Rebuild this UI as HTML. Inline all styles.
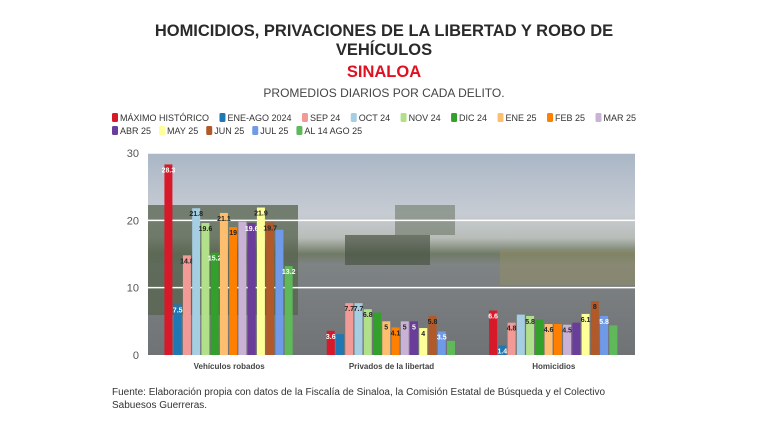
<!DOCTYPE html>
<html><head><meta charset="utf-8"><style>
body{margin:0;width:768px;height:432px;background:#fff;font-family:"Liberation Sans",sans-serif;overflow:hidden;position:relative}
.t{position:absolute;left:0;width:768px;text-align:center}
</style></head><body>
<div class="t" style="top:22px;font-size:16.5px;font-weight:bold;color:#2a2a2a;line-height:19px">HOMICIDIOS, PRIVACIONES DE LA LIBERTAD Y ROBO DE<br>VEHÍCULOS</div>
<div class="t" style="top:63px;font-size:16.5px;font-weight:bold;color:#e01020">SINALOA</div>
<div class="t" style="top:86px;font-size:12px;color:#444">PROMEDIOS DIARIOS POR CADA DELITO.</div>
<svg id="c" width="768" height="432" style="position:absolute;left:0;top:0"></svg>
<div style="position:absolute;left:112px;top:386px;font-size:10px;color:#333;line-height:13px">Fuente: Elaboración propia con datos de la Fiscalía de Sinaloa, la Comisión Estatal de Búsqueda y el Colectivo<br>Sabuesos Guerreras.</div>
<script>
const categories=["Vehículos robados","Privados de la libertad","Homicidios"];
const seriesNames=["MÁXIMO HISTÓRICO","ENE-AGO 2024","SEP 24","OCT 24","NOV 24","DIC 24","ENE 25","FEB 25","MAR 25","ABR 25","MAY 25","JUN 25","JUL 25","AL 14 AGO 25"];
const seriesColors=["#d7192a","#1f78b4","#f29a96","#a6cee3","#b2df8a","#33a02c","#fdbf6f","#ff7f00","#cab2d6","#6a3d9a","#ffff99","#b15928","#6f9ae8","#5fb85a"];
const vehiculos=[28.3,7.5,14.8,21.8,19.6,15.2,21.1,19,19.8,19.6,21.9,19.7,18.6,13.2];
const privados=[3.6,3.1,7.7,7.7,6.8,6.3,5,4.1,5,5,4,5.8,3.5,2.1];
const homicidios=[6.6,1.4,4.8,6,5.8,5.3,4.6,4.6,4.5,4.8,6.1,8,5.8,4.4];
const labels=[
 ["28.3","7.5","14.8","21.8","19.6","15.2","21.1","19","","19.6","21.9","19.7","","13.2"],
 ["3.6","","7.7","7.7","6.8","","5","4.1","5","5","4","5.8","3.5",""],
 ["6.6","1.4","4.8","","5.8","","4.6","","4.5","","6.1","8","5.8",""]];
const yTicks=[0,10,20,30];
const values=[vehiculos,privados,homicidios];
const NS="http://www.w3.org/2000/svg",svg=document.getElementById('c');
const X0=148,X1=635,Y0=355,Y1=153;
const y=v=>Y0-(v/30)*(Y0-Y1);
const band=(X1-X0)/categories.length;
const step=9.25,bw=8;
const x=(ci,si)=>X0+band*ci+band/2-(seriesNames.length*step)/2+si*step;
function mk(t,a,p){const e=document.createElementNS(NS,t);for(const k in a)e.setAttribute(k,a[k]);(p||svg).appendChild(e);return e;}
const defs=mk('defs',{});
defs.innerHTML='<linearGradient id="sky" x1="0" y1="0" x2="0" y2="1"><stop offset="0" stop-color="#aab6c6"/><stop offset="0.3" stop-color="#c7ccd3"/><stop offset="0.42" stop-color="#b9bdb9"/><stop offset="0.5" stop-color="#6f7a66"/><stop offset="0.55" stop-color="#7e8384"/><stop offset="1" stop-color="#707376"/></linearGradient>';
const bg=mk('rect',{x:X0,y:Y1,width:X1-X0,height:Y0-Y1,fill:'url(#sky)'});

mk('rect',{x:X0,y:205,width:150,height:110,fill:'#56634d',opacity:0.75});
mk('rect',{x:500,y:250,width:135,height:35,fill:'#8f8c66',opacity:0.55});
mk('rect',{x:345,y:235,width:85,height:30,fill:'#4a5444',opacity:0.7});
mk('rect',{x:395,y:205,width:60,height:30,fill:'#5d6a55',opacity:0.5});
yTicks.forEach(v=>{
 if(v>0){const g=mk('line',{x1:X0,x2:X1,y1:y(v),y2:y(v),stroke:'#fff','stroke-width':1.5});}
 const t=mk('text',{x:139,y:y(v)+4,'text-anchor':'end','font-size':11,fill:'#555'});t.textContent=v;
 
});
values.forEach((arr,ci)=>{
 arr.forEach((v,si)=>{
  const r=mk('rect',{x:x(ci,si),y:y(v),width:bw,height:Y0-y(v),fill:seriesColors[si]});
  
  const l=labels[ci][si];
  if(l){const t=mk('text',{x:x(ci,si)+bw/2,y:y(v)+8,'text-anchor':'middle','font-size':7,'font-weight':'bold',fill:(si===0||si===1||si===5||si===9||si===12||si===13)?'#fff':'#222'});t.textContent=l;
   }
 });
 const t=mk('text',{x:X0+band*ci+band/2,y:369,'text-anchor':'middle','font-size':8,'font-weight':'bold',fill:'#444'});t.textContent=categories[ci];
 
});
// legend: sequential layout, row 1 spread to 112..636
const row1=9;
function legendRow(idx,yy,spread){
 const items=idx.map(i=>{
  const g=mk('g',{});
  
  
  const r=mk('rect',{y:yy-8,width:6,height:9,rx:1.5,fill:seriesColors[i]},g);
  const t=mk('text',{y:yy,'font-size':9,fill:'#333'},g);t.textContent=seriesNames[i];
  return {r,t,w:8+t.getComputedTextLength()};
 });
 const tot=items.reduce((s,o)=>s+o.w,0);
 const gap=spread?(636-112-tot)/(items.length-1):8;
 let cx=112;
 items.forEach(o=>{o.r.setAttribute('x',cx);o.t.setAttribute('x',cx+8);cx+=o.w+gap;});
}
legendRow([0,1,2,3,4,5,6,7,8],121,true);
legendRow([9,10,11,12,13],134,false);
</script>
</body></html>
